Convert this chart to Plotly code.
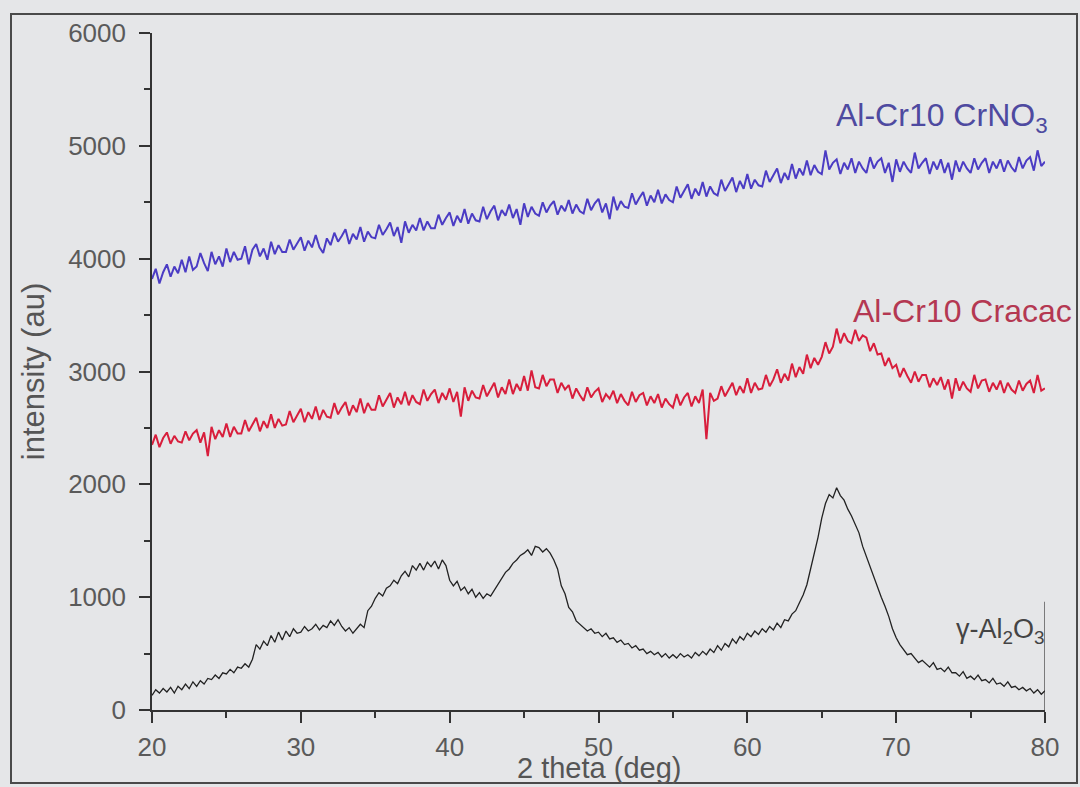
import numpy as np
import plotly.graph_objects as go

# 2-theta sampling grid (deg), 0.25 deg step
two_theta = np.round(np.arange(20.0, 80.0001, 0.25), 2)

# Al-Cr10 CrNO3 intensity (au)
cr_no3 = [
    3820, 3910, 3780, 3880,
    3950, 3840, 3930, 3870,
    3990, 3880, 4020, 3900,
    3930, 4050, 3960, 3890,
    4060, 3950, 4020, 3930,
    4090, 3970, 4060, 3990,
    4000, 4110, 3950, 4080,
    4130, 4020, 4090, 3990,
    4150, 4040, 4120, 4060,
    4060, 4170, 4080, 4140,
    4190, 4070, 4160, 4100,
    4210, 4100, 4050, 4180,
    4120, 4230, 4150, 4200,
    4260, 4130, 4220, 4170,
    4280, 4150, 4240, 4190,
    4180, 4300, 4210, 4260,
    4320, 4200, 4280, 4140,
    4330, 4230, 4300, 4250,
    4360, 4250, 4330, 4270,
    4270, 4390, 4300, 4360,
    4410, 4290, 4380, 4320,
    4440, 4310, 4400, 4340,
    4330, 4460, 4350, 4420,
    4470, 4340, 4430, 4380,
    4480, 4360, 4440, 4300,
    4490, 4370, 4460, 4400,
    4380, 4500, 4410, 4470,
    4510, 4390, 4470, 4420,
    4520, 4400, 4480, 4420,
    4400, 4530, 4430, 4490,
    4530, 4410, 4490, 4350,
    4550, 4430, 4510, 4460,
    4450, 4580, 4480, 4540,
    4590, 4470, 4560, 4500,
    4610, 4490, 4570, 4520,
    4500, 4640, 4540, 4600,
    4660, 4530, 4620, 4560,
    4680, 4550, 4640, 4580,
    4560, 4700, 4600, 4660,
    4720, 4590, 4690, 4620,
    4750, 4620, 4700, 4650,
    4640, 4780, 4680, 4740,
    4800, 4670, 4760, 4700,
    4840, 4710, 4800, 4740,
    4870, 4740, 4830, 4770,
    4750, 4960, 4790, 4850,
    4880, 4750, 4850, 4790,
    4890, 4760, 4860, 4800,
    4760, 4900, 4800, 4860,
    4890, 4760, 4850, 4680,
    4880, 4770, 4860, 4800,
    4760, 4940, 4800, 4850,
    4890, 4750, 4860, 4790,
    4880, 4760, 4850, 4700,
    4870, 4770, 4860, 4800,
    4760, 4890, 4790, 4850,
    4890, 4760, 4860, 4800,
    4880, 4770, 4870, 4810,
    4770, 4900, 4800, 4870,
    4900, 4780, 4960, 4820,
    4860,
]

# Al-Cr10 Cracac intensity (au)
cr_acac = [
    2350, 2440, 2330, 2410,
    2460, 2360, 2430, 2380,
    2370, 2470, 2390, 2450,
    2480, 2370, 2460, 2250,
    2510, 2400, 2480, 2420,
    2540, 2420, 2510, 2450,
    2450, 2570, 2470, 2530,
    2590, 2470, 2560, 2500,
    2620, 2500, 2580, 2520,
    2530, 2650, 2550, 2610,
    2670, 2550, 2640, 2580,
    2690, 2570, 2660, 2600,
    2590, 2720, 2620, 2680,
    2730, 2610, 2700, 2640,
    2760, 2630, 2720, 2660,
    2660, 2790, 2690, 2750,
    2810, 2680, 2770, 2710,
    2820, 2700, 2790, 2730,
    2710, 2840, 2740, 2800,
    2840, 2720, 2810, 2750,
    2850, 2730, 2820, 2600,
    2860, 2740, 2830, 2770,
    2760, 2880, 2780, 2840,
    2900, 2770, 2860, 2800,
    2930, 2800, 2890, 2830,
    2960, 2830, 3010, 2860,
    2850, 2970, 2870, 2930,
    2930, 2810, 2900, 2840,
    2880, 2760, 2850, 2790,
    2740, 2860, 2770, 2820,
    2850, 2730, 2800, 2760,
    2830, 2720, 2800, 2740,
    2700, 2820, 2730, 2790,
    2810, 2700, 2780, 2720,
    2800, 2680, 2760, 2710,
    2680, 2800, 2700, 2770,
    2810, 2690, 2780, 2720,
    2840, 2400, 2810, 2740,
    2760, 2870, 2780, 2840,
    2900, 2790, 2870, 2810,
    2940, 2810, 2900, 2840,
    2850, 2970, 2870, 2930,
    3020, 2900, 2980, 2920,
    3070, 2950, 3040, 2980,
    3150, 3030, 3120, 3060,
    3130, 3260, 3160, 3220,
    3380, 3250, 3340, 3270,
    3250, 3370, 3270, 3320,
    3300, 3180, 3250, 3150,
    3160, 3050, 3120, 3030,
    3060, 2950, 3030, 2960,
    2900, 3000, 2910, 2970,
    2970, 2860, 2940, 2880,
    2950, 2840, 2930, 2760,
    2940, 2830, 2910, 2850,
    2820, 2970, 2850, 2920,
    2930, 2820, 2900, 2840,
    2920, 2810, 2900, 2840,
    2810, 2920, 2830, 2890,
    2920, 2810, 2970, 2830,
    2850,
]

# gamma-Al2O3 intensity (au)
gamma_al2o3 = [
    130, 180, 150, 190,
    160, 200, 150, 210,
    180, 230, 190, 250,
    210, 260, 230, 280,
    270, 310, 280, 330,
    320, 360, 330, 380,
    370, 410, 380, 450,
    580, 540, 610, 570,
    660, 600, 690, 620,
    700, 650, 720, 680,
    690, 740, 700, 720,
    760, 710, 750, 730,
    790, 750, 800, 740,
    700, 730, 680, 720,
    760, 730, 880, 920,
    990, 1040, 1010, 1080,
    1100, 1150, 1120, 1190,
    1230, 1180, 1280, 1240,
    1300, 1240, 1310, 1270,
    1320, 1250, 1330, 1280,
    1150, 1100, 1140, 1060,
    1090, 1030, 1070, 1000,
    1040, 990, 1030, 1010,
    1060, 1110, 1160, 1220,
    1250, 1300, 1330, 1370,
    1390, 1420, 1370, 1450,
    1440, 1400, 1430, 1390,
    1330, 1250, 1100, 1030,
    910, 870, 790, 760,
    730, 700, 720, 680,
    690, 650, 680, 630,
    640, 600, 620, 580,
    590, 550, 570, 530,
    540, 500, 520, 490,
    510, 470, 500, 460,
    490, 460, 500, 470,
    490, 460, 510, 480,
    520, 490, 540, 510,
    570, 530, 590, 560,
    630, 590, 650, 620,
    680, 650, 700, 670,
    720, 690, 740, 710,
    770, 730, 800, 790,
    850, 880, 950, 1020,
    1110, 1250, 1380, 1530,
    1700, 1830, 1910, 1880,
    1970, 1900, 1860, 1780,
    1720, 1640, 1570, 1450,
    1360, 1260, 1170, 1080,
    1000, 920, 830, 720,
    640, 580, 530, 490,
    500, 460, 420, 440,
    410, 380, 420, 360,
    370, 340, 380, 330,
    330, 300, 340, 280,
    300, 270, 310, 260,
    270, 240, 280, 230,
    240, 210, 250, 200,
    210, 180, 200, 170,
    190, 150, 180, 140,
    170,
]

x_ticks = [20, 30, 40, 50, 60, 70, 80]
y_ticks = [0, 1000, 2000, 3000, 4000, 5000, 6000]

series_names = ["Al-Cr10 CrNO3", "Al-Cr10 Cracac", "γ-Al2O3"]
line_colors = ["#4b3cc4", "#d81e3c", "#222222"]
label_colors = ["#4e4aa0", "#b43852", "#444444"]

FONT = "Liberation Sans, Arial, sans-serif"
BG = "#e5e6e8"

fig = go.Figure()
for name, ys, col, w in zip(series_names, [cr_no3, cr_acac, gamma_al2o3],
                            line_colors, [2.0, 2.0, 1.3]):
    fig.add_trace(go.Scatter(x=two_theta, y=ys, mode="lines", name=name,
                             line=dict(color=col, width=w), showlegend=False))

# plot-area pixel helpers (plot area spans x 152..1045, y 33..710)
PW, PH = 893.0, 677.0
def px(xp):
    return (xp - 152) / PW
def py(yp):
    return (710 - yp) / PH

# curve labels
fig.add_annotation(x=px(1050), y=py(117), xref="paper", yref="paper",
                   xanchor="right", yanchor="middle",
                   text="Al-Cr10 CrNO<sub>3</sub>", showarrow=False,
                   font=dict(family=FONT, size=32, color=label_colors[0]))
fig.add_annotation(x=px(851), y=py(311), xref="paper", yref="paper",
                   xanchor="left", yanchor="middle",
                   text="Al-Cr10 Cracac", showarrow=False,
                   font=dict(family=FONT, size=32, color=label_colors[1]))
fig.add_annotation(x=px(954), y=py(631), xref="paper", yref="paper",
                   xanchor="left", yanchor="middle",
                   text="γ-Al<sub>2</sub>O<sub>3</sub>", showarrow=False,
                   font=dict(family=FONT, size=27, color=label_colors[2]))

# x-axis title, set just under the tick labels
fig.add_annotation(x=0.5, y=py(768), xref="paper", yref="paper",
                   xanchor="center", yanchor="middle",
                   text="2 theta (deg)", showarrow=False,
                   font=dict(family=FONT, size=29, color="#555555"))

# short right-hand marker segment at 80 deg
fig.add_shape(type="line", xref="x", yref="y", x0=80, x1=80, y0=0, y1=960,
              line=dict(color="#333333", width=1.2))

# outer frame
fig.add_shape(type="rect", xref="paper", yref="paper",
              x0=px(11), x1=px(1077), y0=py(783), y1=py(14),
              line=dict(color="#4a4a4a", width=2), fillcolor="rgba(0,0,0,0)", layer="below")

axis_common = dict(showgrid=False, zeroline=False, showline=True, linecolor="#333333",
                   linewidth=1.6, ticks="outside", ticklen=11, tickwidth=1.6,
                   tickcolor="#333333", automargin=False,
                   tickfont=dict(family=FONT, size=26, color="#5a5a5a"))

fig.update_xaxes(range=[20, 80], tickvals=x_ticks, ticktext=[str(v) for v in x_ticks],
                 ticklabelstandoff=2,
                 minor=dict(tickvals=[25, 35, 45, 55, 65, 75], ticks="outside", ticklen=6,
                            tickwidth=1.6, tickcolor="#333333"),
                 **axis_common)
fig.update_yaxes(range=[0, 6000], tickvals=y_ticks, ticktext=[str(v) for v in y_ticks],
                 ticklabelstandoff=8,
                 minor=dict(tickvals=[500, 1500, 2500, 3500, 4500, 5500], ticks="outside",
                            ticklen=6, tickwidth=1.6, tickcolor="#333333"),
                 title=dict(text="intensity (au)", standoff=14,
                            font=dict(family=FONT, size=31, color="#555555")),
                 **axis_common)

fig.update_layout(width=1080, height=787, margin=dict(l=152, r=35, t=33, b=77),
                  paper_bgcolor=BG, plot_bgcolor=BG)

fig.write_html("out.html")
